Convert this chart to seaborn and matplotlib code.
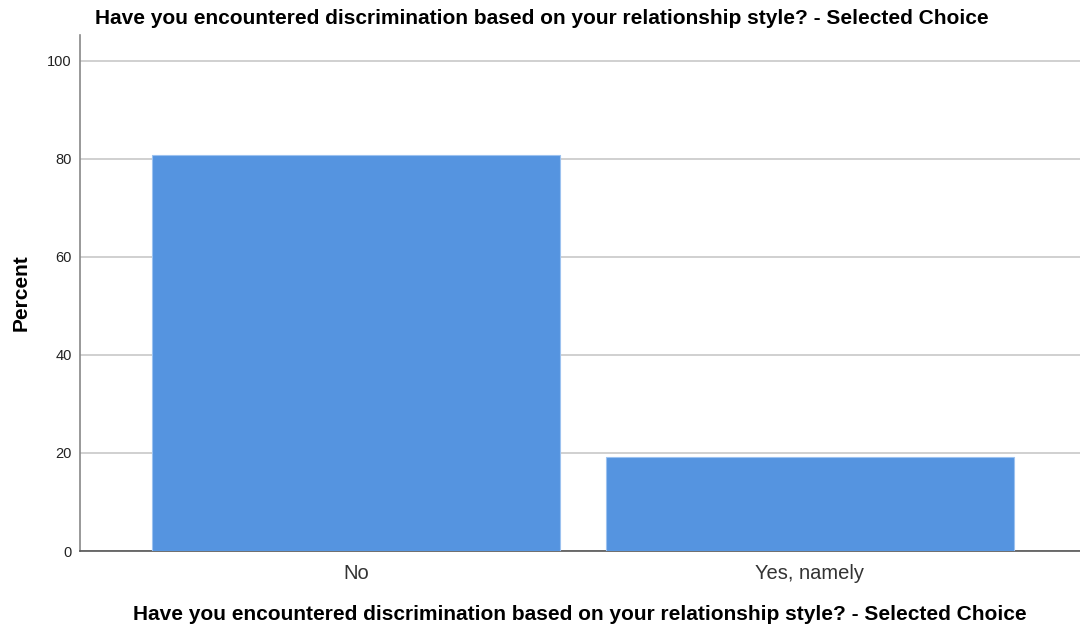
import matplotlib
matplotlib.use('Agg')
import matplotlib.pyplot as plt
import pandas as pd
import seaborn as sns

# Data
answers = ['No', 'Yes, namely']
percents = [80.8, 19.2]
y_ticks = [0, 20, 40, 60, 80, 100]
question = 'Have you encountered discrimination based on your relationship style? - Selected Choice'

df = pd.DataFrame({'answer': answers, 'percent': percents})

sns.set_style('white')
plt.rcParams['font.family'] = ['Liberation Sans', 'DejaVu Sans']
plt.rcParams['text.color'] = 'black'
plt.rcParams['axes.labelcolor'] = 'black'

fig = plt.figure(figsize=(10.8, 6.26), dpi=100)
ax = fig.add_axes([0.0741, 0.1198, 0.9259, 0.8243])

sns.barplot(data=df, x='answer', y='percent', color='#5594E0', saturation=1,
            width=0.9, edgecolor='#9cc2f0', linewidth=0.8, ax=ax, zorder=3)

ax.set_ylim(0, 105.3)
ax.set_xlim(-0.608, 1.595)
ax.set_yticks(y_ticks)
ax.yaxis.grid(True, color='#c8c8c8', linewidth=1.2, zorder=0)
ax.set_axisbelow(True)

for s in ['top', 'right']:
    ax.spines[s].set_visible(False)
ax.spines['left'].set_color('#888888')
ax.spines['bottom'].set_color('#555555')
ax.spines['left'].set_linewidth(1.2)
ax.spines['bottom'].set_linewidth(1.2)

ax.tick_params(axis='y', length=0, labelsize=10.5, labelcolor='#222222', pad=6)
ax.tick_params(axis='x', length=0, labelsize=14.5, labelcolor='#333333', pad=9)

ax.set_ylabel('Percent', fontsize=15, fontweight='bold', labelpad=12)
ax.set_xlabel(question, fontsize=15, fontweight='bold', labelpad=16)
fig.text(0.502, 0.971, question, ha='center', va='center', fontsize=15, fontweight='bold')

fig.savefig('out.png', dpi=100)
